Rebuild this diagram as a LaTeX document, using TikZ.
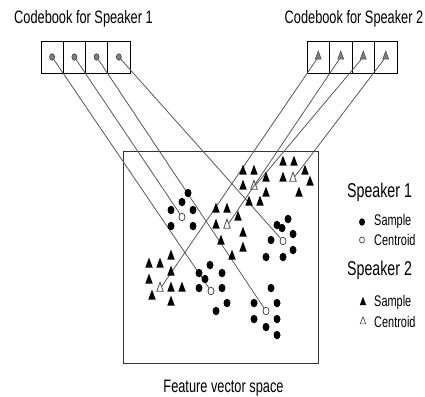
\documentclass[tikz,border=0pt]{standalone}
\usepackage{fontspec}
\setmainfont[FakeStretch=0.71]{Liberation Sans}
\usetikzlibrary{shapes.geometric}
\begin{document}
\begin{tikzpicture}[x=1pt,y=-1pt,
  sdot/.style={ellipse,fill=black,minimum width=7pt,minimum height=8.5pt,inner sep=0pt},
  scen/.style={ellipse,draw=black!70,fill=white,line width=0.8pt,minimum width=6pt,minimum height=7.5pt,inner sep=0pt},
  stri/.style={isosceles triangle,isosceles triangle stretches,shape border rotate=90,fill=black,minimum width=7.5pt,minimum height=10pt,inner sep=0pt},
  tcen/.style={isosceles triangle,isosceles triangle stretches,shape border rotate=90,draw=black!70,fill=white,line width=0.8pt,minimum width=6.5pt,minimum height=9pt,inner sep=0pt},
  cell/.style={draw=black,line width=0.6pt,minimum height=32pt,inner sep=0pt},
  cbdot/.style={ellipse,draw=black!75,fill=black!50,line width=0.6pt,minimum width=5pt,minimum height=6.5pt,inner sep=0pt},
  cbtri/.style={isosceles triangle,isosceles triangle stretches,shape border rotate=90,draw=black!75,fill=black!50,line width=0.5pt,minimum width=6pt,minimum height=8pt,inner sep=0pt},
  link/.style={draw=black!65,line width=0.8pt},
  title/.style={font=\fontsize{18}{20}\selectfont,inner sep=0pt},
  legh/.style={font=\fontsize{20}{22}\selectfont,inner sep=0pt,anchor=west},
  legt/.style={font=\fontsize{15.4}{17}\selectfont,inner sep=0pt,anchor=west}
]
\useasboundingbox (0,0) rectangle (425,396);
\fill[white] (0,0) rectangle (425,396);

% titles
\node[title] (t1) at (83.5,19) {Codebook for Speaker 1};
\node[title] (t2) at (354,19) {Codebook for Speaker 2};
\node[title] (t3) at (223.5,388) {Feature vector space};

% feature space box
\node[draw=black!80,line width=1pt,minimum width=195pt,minimum height=212pt,inner sep=0pt] (space) at (220.5,257) {};

% codebook 1
\foreach \i/\x in {1/52.125,2/74.375,3/96.625,4/118.875}{
  \node[cell,minimum width=22.25pt] (a\i) at (\x,57) {};
  \node[cbdot] (p\i) at (\x,57) {};
}
% codebook 2
\foreach \i/\x in {1/318.25,2/340.75,3/363.25,4/385.75}{
  \node[cell,minimum width=22.5pt] (b\i) at (\x,57) {};
  \node[cbtri] (q\i) at (\x,57) {};
}

% centroids
\node[scen] (cA) at (182,217) {};
\node[scen] (cB) at (283,241) {};
\node[scen] (cC) at (211,291) {};
\node[scen] (cD) at (266,311) {};
\node[tcen] (cE) at (254,187) {};
\node[tcen] (cF) at (293,179) {};
\node[tcen] (cG) at (227,226) {};
\node[tcen] (cH) at (160,289) {};

% links
\draw[link] (p1) -- (cC);
\draw[link] (p2) -- (cA);
\draw[link] (p3) -- (cD);
\draw[link] (p4) -- (cB);
\draw[link] (q1) -- (cH);
\draw[link] (q2) -- (cG);
\draw[link] (q3) -- (cE);
\draw[link] (q4) -- (cF);

% speaker 1 samples
\foreach \x/\y [count=\n] in {188/193,182/202,171/210,193/210,171/226,193/226,
  288/219,277/225,282/228,293/234,271/240,293/250,266/257,283/257,
  210/265,199/273,205/279,222/273,199/288,222/288,227/303,216/311,
  271/288,254/303,277/303,254/319,277/319,266/327,277/335}
  \node[sdot] (s\n) at (\x,\y) {};

% speaker 2 samples
\foreach \x/\y [count=\n] in {243/172,254/172,283/163,294/163,243/187,266/179,283/179,305/172,310/183,299/194,266/194,260/203,249/203,
  216/210,227/210,216/226,238/218,243/234,221/242,243/249,232/257,
  149/265,160/265,171/257,149/281,171/273,171/289,182/289,152/297,171/303}
  \node[stri] (r\n) at (\x,\y) {};

% legend
\node[legh] (l1) at (347,192) {Speaker 1};
\node[sdot,minimum width=6pt,minimum height=7.5pt] (l1a) at (362,222) {};
\node[legt] (l1b) at (374,222) {Sample};
\node[scen,minimum width=5pt,minimum height=6pt,line width=0.7pt] (l1c) at (362,240) {};
\node[legt] (l1d) at (374,240) {Centroid};
\node[legh] (l2) at (347,270) {Speaker 2};
\node[stri,minimum width=6.5pt,minimum height=8.5pt] (l2a) at (363,303) {};
\node[legt] (l2b) at (374,303) {Sample};
\node[tcen,minimum width=5.5pt,minimum height=7pt,line width=0.7pt] (l2c) at (363,322) {};
\node[legt] (l2d) at (374,322) {Centroid};
\end{tikzpicture}
\end{document}
